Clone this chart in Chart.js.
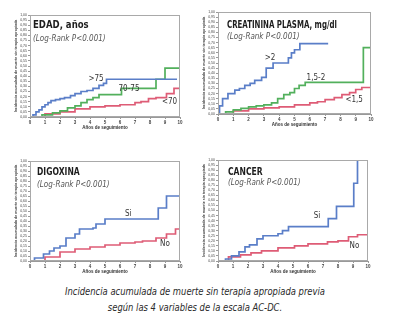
<!DOCTYPE html>
<html>
<head>
<meta charset="utf-8">
<script src="https://cdn.jsdelivr.net/npm/chart.js@4.4.1/dist/chart.umd.min.js"></script>
<style>
body{margin:0;background:#fff;width:396px;height:335px;position:relative;overflow:hidden}
canvas{position:absolute}
.cap{position:absolute;left:0;width:390px;text-align:center;font:italic 11px "Liberation Sans Narrow","DejaVu Sans Condensed",sans-serif;color:#2a2a2a;line-height:13px;transform:scaleX(0.85);transform-origin:195px 0}
</style>
</head>
<body>
<canvas id="edad" style="left:0;top:0" width="196" height="140"></canvas>
<canvas id="creat" style="left:196px;top:0" width="200" height="140"></canvas>
<canvas id="digox" style="left:0;top:140px" width="196" height="145"></canvas>
<canvas id="cancer" style="left:196px;top:140px" width="200" height="145"></canvas>
<div class="cap" style="top:285px">Incidencia acumulada de muerte sin terapia apropiada previa</div>
<div class="cap" style="top:301px">según las 4 variables de la escala AC-DC.</div>
<script>
// years of follow-up, y axis 0..1
const years = [0, 1, 2, 3, 4, 5, 6, 7, 8, 9, 10];

// EDAD
const edad75X = [0, 0.2, 0.4, 0.6, 0.8, 1.0, 1.2, 1.4, 1.7, 2.0, 2.3, 2.7, 3.0, 3.4, 3.8, 4.2, 4.6, 4.9, 5.1, 9.8];
const edad75Y = [0, 0.02, 0.05, 0.07, 0.1, 0.12, 0.14, 0.16, 0.17, 0.18, 0.19, 0.21, 0.23, 0.25, 0.26, 0.28, 0.31, 0.33, 0.37, 0.37];
const edad7075X = [0, 0.8, 1.5, 2.0, 2.5, 3.0, 3.4, 3.8, 4.2, 4.6, 6.1, 8.4, 9.0, 10];
const edad7075Y = [0, 0.02, 0.04, 0.06, 0.09, 0.11, 0.14, 0.17, 0.19, 0.22, 0.28, 0.37, 0.48, 0.48];
const edad70X = [0, 1, 2, 3, 4, 5, 6, 7, 7.4, 7.9, 8.4, 9.1, 9.6, 10];
const edad70Y = [0, 0.03, 0.05, 0.08, 0.1, 0.11, 0.12, 0.14, 0.15, 0.18, 0.19, 0.23, 0.28, 0.28];

// CREATININA
const creat2X = [0, 0.1, 0.3, 0.65, 1.1, 1.4, 1.75, 2.1, 2.4, 2.85, 3.15, 3.6, 4.6, 4.8, 5.0, 5.35, 7.2];
const creat2Y = [0, 0.08, 0.15, 0.2, 0.235, 0.25, 0.28, 0.3, 0.33, 0.36, 0.45, 0.5, 0.55, 0.6, 0.63, 0.69, 0.69];
const creat152X = [0, 0.5, 1.0, 1.5, 2.0, 2.5, 3.0, 3.5, 3.9, 4.3, 4.7, 5.0, 5.3, 5.7, 9.5, 10];
const creat152Y = [0, 0.02, 0.04, 0.055, 0.07, 0.08, 0.09, 0.11, 0.15, 0.19, 0.21, 0.25, 0.28, 0.31, 0.65, 0.65];
const creat15X = [0, 1, 2, 3, 4, 5, 6, 6.5, 7, 7.6, 8.1, 8.6, 9, 9.4, 10];
const creat15Y = [0, 0.03, 0.05, 0.06, 0.07, 0.09, 0.11, 0.12, 0.14, 0.16, 0.19, 0.21, 0.24, 0.26, 0.27];

// DIGOXINA
const digSiX = [0, 0.3, 0.9, 1.3, 1.6, 2.0, 2.4, 3.0, 3.3, 4.2, 4.4, 5.0, 8.4, 8.55, 9.1, 10];
const digSiY = [0, 0.03, 0.07, 0.1, 0.13, 0.15, 0.23, 0.27, 0.32, 0.33, 0.37, 0.42, 0.42, 0.53, 0.65, 0.65];
const digNoX = [0, 1, 2, 3, 4, 5, 6, 7, 7.5, 8.4, 9.1, 9.7, 10];
const digNoY = [0, 0.04, 0.09, 0.12, 0.14, 0.16, 0.18, 0.19, 0.2, 0.23, 0.27, 0.32, 0.32];

// CANCER
const canSiX = [0, 0.5, 0.9, 1.4, 1.8, 2.1, 2.6, 3.0, 4.0, 4.3, 4.7, 7.2, 7.35, 7.9, 9.05, 9.3];
const canSiY = [0, 0.02, 0.05, 0.09, 0.14, 0.16, 0.22, 0.25, 0.27, 0.3, 0.34, 0.34, 0.42, 0.54, 0.77, 1.0];
const canNoX = [0, 0.7, 1.5, 2.2, 2.9, 4, 5.1, 6, 7.3, 8, 8.7, 9.3, 10];
const canNoY = [0, 0.04, 0.06, 0.08, 0.1, 0.13, 0.15, 0.17, 0.19, 0.2, 0.24, 0.26, 0.29];

const BLUE = "#5a7ec8", GREEN = "#52b05c", RED = "#de5c76";
const NARROW = '"Liberation Sans Narrow","DejaVu Sans Condensed",sans-serif';

function pts(xs, ys) {
	return xs.map((x, i) => ({ x: x, y: ys[i] }));
}

// squeezed text, the original uses a condensed face
function narrowText(ctx, text, x, y, sx) {
	ctx.save();
	ctx.translate(x, y);
	ctx.scale(sx, 1);
	ctx.fillText(text, 0, 0);
	ctx.restore();
}

const notesPlugin = {
	id: "notes",
	afterDatasetsDraw(chart, args, o) {
		const ctx = chart.ctx;
		const a = chart.chartArea;
		const xs = chart.scales.x, ys = chart.scales.y;
		ctx.save();
		ctx.strokeStyle = "#a9a9a9";
		ctx.lineWidth = 1;
		ctx.strokeRect(a.left + 0.5, a.top + 0.5, a.right - a.left - 1, a.bottom - a.top - 1);
		ctx.textBaseline = "middle";
		ctx.textAlign = "left";
		ctx.fillStyle = "#1d1d1d";
		ctx.font = "bold 10px " + NARROW;
		narrowText(ctx, o.title, a.left + o.dx, a.top + o.dy, o.sx);
		ctx.fillStyle = "#555";
		ctx.font = "italic 8px " + NARROW;
		ctx.fillText("(Log-Rank P<0.001)", a.left + o.dx, a.top + o.dy2);
		ctx.textAlign = "center";
		ctx.fillStyle = "#333";
		ctx.font = "8px " + NARROW;
		o.labels.forEach((l) => {
			ctx.fillText(l.text, xs.getPixelForValue(l.x), ys.getPixelForValue(l.y));
		});
		ctx.restore();
	},
};

// desired plot box inside each canvas: L, T, R, B
function makePanel(id, box, series, notes) {
	const cv = document.getElementById(id);
	const W = cv.width, H = cv.height;
	const yw = 16, xh = 13;
	return new Chart(cv, {
		type: "line",
		data: {
			datasets: series.map((s) => ({
				data: pts(s.x, s.y),
				borderColor: s.color,
				borderWidth: 1.7,
				pointRadius: 0,
				stepped: "before",
				fill: false,
			})),
		},
		plugins: [notesPlugin],
		options: {
			responsive: false,
			animation: false,
			layout: {
				padding: { left: box[0] - yw, top: box[1], right: W - box[2], bottom: H - box[3] - xh },
			},
			plugins: { legend: { display: false }, tooltip: { enabled: false }, notes: notes },
			scales: {
				x: {
					type: "linear",
					min: 0,
					max: 10,
					afterFit: (s) => { s.height = xh; },
					afterBuildTicks: (s) => { s.ticks = years.map((v) => ({ value: v })); },
					grid: { drawOnChartArea: false, tickLength: 2, color: "#999" },
					border: { color: "#999" },
					ticks: { font: { size: 4.5, weight: "bold" }, color: "#444", padding: 1, maxRotation: 0 },
					title: { display: true, text: "Años de seguimiento", font: { size: 4.5, weight: "bold" }, color: "#333", padding: 0 },
				},
				y: {
					min: 0,
					max: 1,
					afterFit: (s) => { s.width = yw; },
					grid: { drawOnChartArea: false, tickLength: 2, color: "#999" },
					border: { color: "#999" },
					ticks: {
						stepSize: 0.05,
						autoSkip: false,
						font: { size: 3.5 },
						color: "#444",
						padding: 1,
						callback: (v) => v.toFixed(2).replace(".", ","),
					},
					title: { display: true, text: "Incidencia acumulada de muerte sin terapia apropiada", font: { size: 3.6, weight: "bold" }, color: "#444", padding: 0 },
				},
			},
		},
	});
}

makePanel("edad", [30, 15, 180, 117], [
	{ x: edad75X, y: edad75Y, color: BLUE },
	{ x: edad7075X, y: edad7075Y, color: GREEN },
	{ x: edad70X, y: edad70Y, color: RED },
], { title: "EDAD, años", sx: 0.95, dx: 3, dy: 10, dy2: 24, labels: [
	{ text: ">75", x: 4.4, y: 0.37 },
	{ text: "70-75", x: 6.6, y: 0.28 },
	{ text: "<70", x: 9.3, y: 0.15 },
] });

makePanel("creat", [22, 12, 175, 114], [
	{ x: creat2X, y: creat2Y, color: BLUE },
	{ x: creat152X, y: creat152Y, color: GREEN },
	{ x: creat15X, y: creat15Y, color: RED },
], { title: "CREATININA PLASMA, mg/dl", sx: 0.78, dx: 9, dy: 13, dy2: 25, labels: [
	{ text: ">2", x: 3.4, y: 0.55 },
	{ text: "1,5-2", x: 6.4, y: 0.35 },
	{ text: "<1,5", x: 8.9, y: 0.14 },
] });

makePanel("digox", [30, 21, 180, 121], [
	{ x: digSiX, y: digSiY, color: BLUE },
	{ x: digNoX, y: digNoY, color: RED },
], { title: "DIGOXINA", sx: 0.85, dx: 7, dy: 11, dy2: 24, labels: [
	{ text: "Si", x: 6.55, y: 0.47 },
	{ text: "No", x: 9.0, y: 0.17 },
] });

makePanel("cancer", [22, 20, 172, 121], [
	{ x: canSiX, y: canSiY, color: BLUE },
	{ x: canNoX, y: canNoY, color: RED },
], { title: "CANCER", sx: 0.85, dx: 10, dy: 12, dy2: 23, labels: [
	{ text: "Si", x: 6.6, y: 0.45 },
	{ text: "No", x: 9.1, y: 0.15 },
] });
</script>
</body>
</html>
